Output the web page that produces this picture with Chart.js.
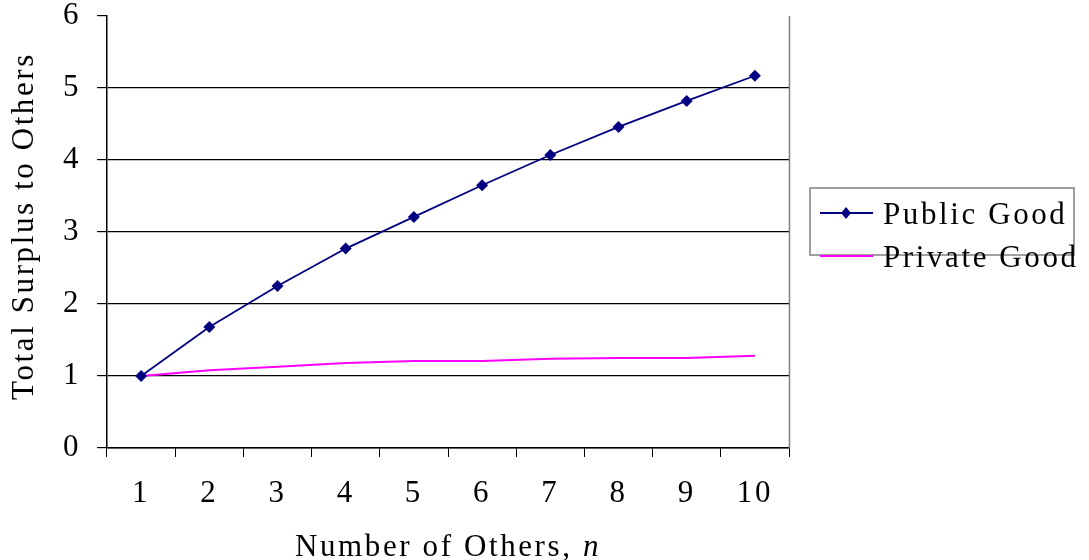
<!DOCTYPE html>
<html>
<head>
<meta charset="utf-8">
<script src="https://cdn.jsdelivr.net/npm/chart.js@4/dist/chart.umd.min.js"></script>
<style>
  html, body { margin: 0; padding: 0; background: #fff; }
  #wrap { width: 1089px; height: 560px; position: relative; }
</style>
</head>
<body>
<div id="wrap"><canvas id="c" width="1089" height="560"></canvas></div>
<script>
// Number of others n
const categories = ['1', '2', '3', '4', '5', '6', '7', '8', '9', '10'];
// Total surplus to others for each kind of good
const publicGood = [1.00, 1.68, 2.25, 2.77, 3.21, 3.65, 4.07, 4.46, 4.82, 5.17];
const privateGood = [1.00, 1.08, 1.13, 1.18, 1.21, 1.21, 1.24, 1.25, 1.25, 1.28];
const yTicks = [0, 1, 2, 3, 4, 5, 6];

const FONT = '"Liberation Serif", "Times New Roman", serif';
const FS = 31;
const SPACING = '2.6px';

function setSpacing(chart) {
  if ('letterSpacing' in chart.ctx) chart.ctx.letterSpacing = SPACING;
}

const decor = {
  id: 'decor',
  beforeUpdate(chart) { setSpacing(chart); },
  beforeLayout(chart) { setSpacing(chart); },
  beforeDraw(chart) { setSpacing(chart); },
  afterDraw(chart) {
    const ctx = chart.ctx;
    const a = chart.chartArea;
    ctx.save();
    setSpacing(chart);
    // right edge of plot area
    ctx.strokeStyle = '#808080';
    ctx.lineWidth = 1.5;
    ctx.beginPath();
    ctx.moveTo(a.right + 0.5, a.top);
    ctx.lineTo(a.right + 0.5, a.bottom);
    ctx.stroke();

    ctx.fillStyle = '#000';
    // x axis title with italic n
    ctx.textBaseline = 'alphabetic';
    const t1 = 'Number of Others, ';
    ctx.font = 'italic ' + FS + 'px ' + FONT;
    const wN = ctx.measureText('n').width;
    ctx.font = FS + 'px ' + FONT;
    const w1 = ctx.measureText(t1).width;
    const cx = (a.left + a.right) / 2;
    const x0 = cx - (w1 + wN) / 2;
    ctx.textAlign = 'left';
    ctx.fillText(t1, x0, 556);
    ctx.font = 'italic ' + FS + 'px ' + FONT;
    ctx.fillText('n', x0 + w1, 556);

    // y axis title
    ctx.font = FS + 'px ' + FONT;
    ctx.save();
    ctx.translate(33, (a.top + a.bottom) / 2 - 6);
    ctx.rotate(-Math.PI / 2);
    ctx.textAlign = 'center';
    ctx.fillText('Total Surplus to Others', 0, 0);
    ctx.restore();

    // legend
    ctx.strokeStyle = '#808080';
    ctx.lineWidth = 1.5;
    ctx.strokeRect(810, 188, 264, 67);
    const ds = chart.data.datasets;
    const rows = [213, 256];
    ds.forEach((d, i) => {
      const y = rows[i];
      ctx.strokeStyle = d.borderColor;
      ctx.lineWidth = d.borderWidth;
      ctx.beginPath();
      ctx.moveTo(820, y);
      ctx.lineTo(873, y);
      ctx.stroke();
      if (d.pointRadius > 0) {
        ctx.fillStyle = d.pointBackgroundColor;
        ctx.beginPath();
        ctx.moveTo(846, y - 6);
        ctx.lineTo(851, y);
        ctx.lineTo(846, y + 6);
        ctx.lineTo(841, y);
        ctx.closePath();
        ctx.fill();
      }
      ctx.fillStyle = '#000';
      ctx.font = FS + 'px ' + FONT;
      ctx.textAlign = 'left';
      ctx.textBaseline = 'alphabetic';
      ctx.fillText(d.label, 883, y + 11);
    });
    ctx.restore();
  }
};

new Chart(document.getElementById('c'), {
  type: 'line',
  data: {
    labels: categories,
    datasets: [
      {
        label: 'Public Good',
        data: publicGood,
        borderColor: '#000080',
        backgroundColor: '#000080',
        pointBackgroundColor: '#000080',
        pointBorderColor: '#000080',
        pointStyle: 'rectRot',
        pointRadius: 6,
        pointBorderWidth: 0,
        borderWidth: 1.8,
        tension: 0
      },
      {
        label: 'Private Good',
        data: privateGood,
        borderColor: '#ff00ff',
        backgroundColor: '#ff00ff',
        pointRadius: 0,
        borderWidth: 2,
        tension: 0
      }
    ]
  },
  options: {
    responsive: false,
    animation: false,
    devicePixelRatio: 1,
    layout: { padding: { top: 16, right: 300, left: 0, bottom: 0 } },
    plugins: { legend: { display: false }, tooltip: { enabled: false } },
    elements: { point: { hoverRadius: 6 } },
    scales: {
      x: {
        type: 'category',
        offset: true,
        grid: {
          offset: true,
          drawOnChartArea: false,
          color: '#000',
          tickColor: '#000',
          tickLength: 9
        },
        border: { color: '#000', width: 1.5 },
        ticks: {
          color: '#000',
          font: { family: FONT, size: FS },
          padding: 18,
          maxRotation: 0,
          autoSkip: false
        },
        afterFit(s) { s.height = 112; s.paddingLeft = 0; s.paddingRight = 0; }
      },
      y: {
        min: 0,
        max: 6,
        afterBuildTicks(s) { s.ticks = yTicks.map(v => ({ value: v })); },
        grid: {
          color: c => (c.tick && c.tick.value === 6) ? 'rgba(0,0,0,0)' : '#000',
          tickColor: '#000',
          tickLength: 10,
          lineWidth: 1.2
        },
        border: { color: '#000', width: 1.5 },
        ticks: {
          color: '#000',
          font: { family: FONT, size: FS },
          padding: 16
        },
        afterFit(s) { s.width = 107; s.paddingTop = 0; s.paddingBottom = 0; }
      }
    }
  },
  plugins: [decor]
});
</script>
</body>
</html>
